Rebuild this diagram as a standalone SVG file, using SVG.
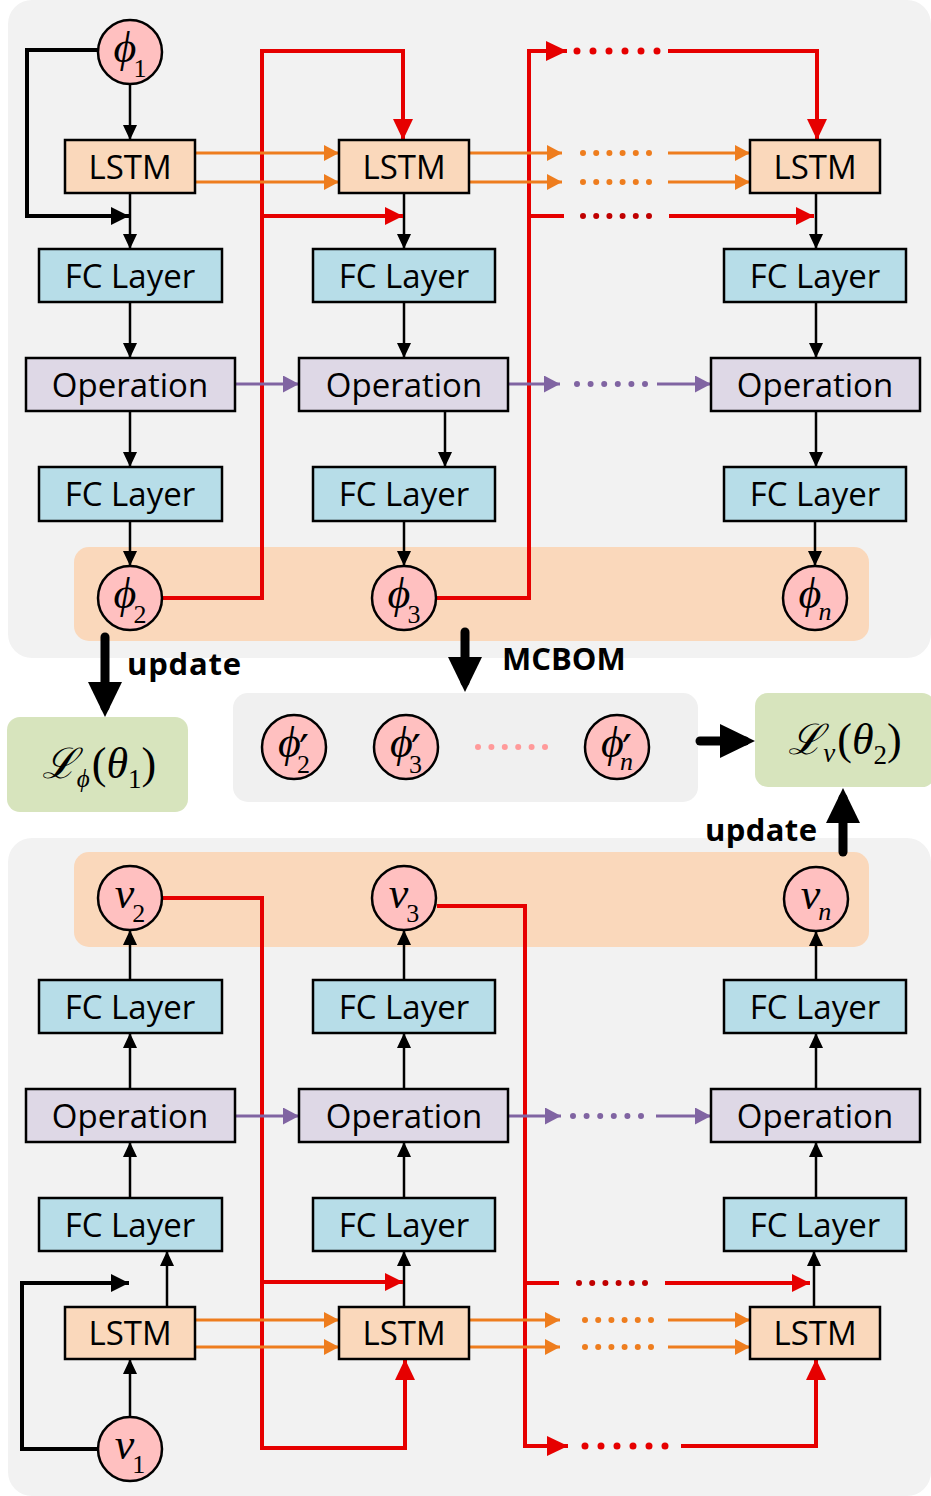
<svg xmlns="http://www.w3.org/2000/svg" width="931" height="1496" viewBox="0 0 931 1496">
<style>
.panel{fill:#f2f2f2}
.band{fill:#fad8bb}
.lstm{fill:#fad8bb;stroke:#000;stroke-width:2.5}
.fc{fill:#b7dde8;stroke:#000;stroke-width:2.5}
.op{fill:#ded8e6;stroke:#000;stroke-width:2.5}
.cir{fill:#ffc0c0;stroke:#000;stroke-width:2.5}
.green{fill:#d7e4bd}
.lbl{font-family:"Open Sans","Liberation Sans",sans-serif;font-size:33px;fill:#000;text-anchor:middle}
.bold{font-family:"Open Sans","Liberation Sans",sans-serif;font-size:31px;font-weight:700;fill:#000}
.m{font-family:"Liberation Serif","DejaVu Serif",serif;font-size:44px;fill:#000;text-anchor:middle}
.it{font-style:italic}
.sub{font-size:26px}
.pr{font-family:"DejaVu Serif",serif;font-size:44px}
.blk{fill:none;stroke:#000;stroke-width:2.5}
.blk4{fill:none;stroke:#000;stroke-width:4}
.red{fill:none;stroke:#e60000;stroke-width:4}
.org{fill:none;stroke:#ee7d1e;stroke-width:3}
.pur{fill:none;stroke:#8064a2;stroke-width:3}
.thick{fill:none;stroke:#000;stroke-width:9;stroke-linecap:round}
.dr{fill:none;stroke:#e60000;stroke-width:7;stroke-linecap:round;stroke-dasharray:0 16}
.ddr{fill:none;stroke:#c00000;stroke-width:6;stroke-linecap:round;stroke-dasharray:0 13.2}
.dor{fill:none;stroke:#ee7d1e;stroke-width:6;stroke-linecap:round;stroke-dasharray:0 13.2}
.dpu{fill:none;stroke:#8064a2;stroke-width:6;stroke-linecap:round;stroke-dasharray:0 13.6}
.dpk{fill:none;stroke:#ff9a9a;stroke-width:6;stroke-linecap:round;stroke-dasharray:0 13.4}
</style>
<defs>
<marker id="mk" markerUnits="userSpaceOnUse" markerWidth="15" markerHeight="14" refX="15" refY="7" orient="auto"><path d="M0,0 L15,7 L0,14 z" fill="#000"/></marker>
<marker id="mkb" markerUnits="userSpaceOnUse" markerWidth="18" markerHeight="18" refX="18" refY="9" orient="auto"><path d="M0,0 L18,9 L0,18 z" fill="#000"/></marker>
<marker id="mr" markerUnits="userSpaceOnUse" markerWidth="21" markerHeight="20" refX="21" refY="10" orient="auto"><path d="M0,0 L21,10 L0,20 z" fill="#e60000"/></marker>
<marker id="mrs" markerUnits="userSpaceOnUse" markerWidth="18" markerHeight="18" refX="18" refY="9" orient="auto"><path d="M0,0 L18,9 L0,18 z" fill="#e60000"/></marker>
<marker id="mo" markerUnits="userSpaceOnUse" markerWidth="15" markerHeight="16" refX="15" refY="8" orient="auto"><path d="M0,0 L15,8 L0,16 z" fill="#ee7d1e"/></marker>
<marker id="mp" markerUnits="userSpaceOnUse" markerWidth="16" markerHeight="17" refX="16" refY="8.5" orient="auto"><path d="M0,0 L16,8.5 L0,17 z" fill="#8064a2"/></marker>
<marker id="mt" markerUnits="userSpaceOnUse" markerWidth="35" markerHeight="34" refX="25" refY="17" orient="auto"><path d="M0,0 L35,17 L0,34 z" fill="#000"/></marker>
</defs>
<rect width="931" height="1496" fill="#fff"/>
<g id="backgrounds">
<rect class="panel" x="8" y="0" width="923" height="658" rx="24"/>
<rect class="band" x="74" y="547" width="795" height="94" rx="15"/>
<rect fill="#f0f0f0" x="233" y="693" width="465" height="109" rx="15"/>
<rect class="panel" x="8" y="838" width="923" height="658" rx="24"/>
<rect class="band" x="74" y="852" width="795" height="95" rx="15"/>
</g>
<g id="connectors">
<path class="blk" d="M130,84 V140" marker-end="url(#mk)"/>
<path class="blk4" d="M98,50 H27 V216 H129" marker-end="url(#mkb)"/>
<path class="blk" d="M130,193 V249" marker-end="url(#mk)"/>
<path class="blk" d="M404,193 V249" marker-end="url(#mk)"/>
<path class="blk" d="M816,193 V249" marker-end="url(#mk)"/>
<path class="blk" d="M130,302 V358" marker-end="url(#mk)"/>
<path class="blk" d="M404,302 V358" marker-end="url(#mk)"/>
<path class="blk" d="M816,302 V358" marker-end="url(#mk)"/>
<path class="blk" d="M130,411 V467" marker-end="url(#mk)"/>
<path class="blk" d="M445,411 V467" marker-end="url(#mk)"/>
<path class="blk" d="M816,411 V467" marker-end="url(#mk)"/>
<path class="blk" d="M130,521 V566" marker-end="url(#mk)"/>
<path class="blk" d="M404,521 V566" marker-end="url(#mk)"/>
<path class="blk" d="M815,521 V566" marker-end="url(#mk)"/>
<path class="red" d="M163,598 H262 V51 H403 V140" marker-end="url(#mr)"/>
<path class="red" d="M262,216 H403" marker-end="url(#mrs)"/>
<path class="red" d="M437,598 H529 V51 H567" marker-end="url(#mr)"/>
<path class="dr" d="M577,51 H657.1"/>
<path class="red" d="M668,51 H817 V140" marker-end="url(#mr)"/>
<path class="red" d="M529,216 H564"/>
<path class="ddr" d="M583,216 H649.1"/>
<path class="red" d="M669,216 H814" marker-end="url(#mrs)"/>
<path class="org" d="M195,153 H339" marker-end="url(#mo)"/>
<path class="org" d="M195,182 H339" marker-end="url(#mo)"/>
<path class="org" d="M469,153 H562" marker-end="url(#mo)"/>
<path class="org" d="M469,182 H562" marker-end="url(#mo)"/>
<path class="dor" d="M583,153 H649.1"/>
<path class="dor" d="M583,182 H649.1"/>
<path class="org" d="M668,153 H750" marker-end="url(#mo)"/>
<path class="org" d="M668,182 H750" marker-end="url(#mo)"/>
<path class="pur" d="M235,384 H299" marker-end="url(#mp)"/>
<path class="pur" d="M508,384 H560" marker-end="url(#mp)"/>
<path class="dpu" d="M577,384 H645.1"/>
<path class="pur" d="M657,384 H711" marker-end="url(#mp)"/>
<path class="thick" d="M105,637 V707" marker-end="url(#mt)"/>
<path class="thick" d="M465,632 V682" marker-end="url(#mt)"/>
<path class="thick" d="M700,741 H745" marker-end="url(#mt)"/>
<path class="thick" d="M843,852 V798" marker-end="url(#mt)"/>
<path class="dpk" d="M478,747 H545.1"/>
<path class="blk" d="M130,1417 V1359" marker-end="url(#mk)"/>
<path class="blk4" d="M98,1449 H22 V1283 H129" marker-end="url(#mkb)"/>
<path class="blk" d="M167,1307 V1251" marker-end="url(#mk)"/>
<path class="blk" d="M404,1307 V1251" marker-end="url(#mk)"/>
<path class="blk" d="M814,1307 V1251" marker-end="url(#mk)"/>
<path class="blk" d="M130,1198 V1142" marker-end="url(#mk)"/>
<path class="blk" d="M404,1198 V1142" marker-end="url(#mk)"/>
<path class="blk" d="M816,1198 V1142" marker-end="url(#mk)"/>
<path class="blk" d="M130,1089 V1033" marker-end="url(#mk)"/>
<path class="blk" d="M404,1089 V1033" marker-end="url(#mk)"/>
<path class="blk" d="M816,1089 V1033" marker-end="url(#mk)"/>
<path class="blk" d="M130,980 V930" marker-end="url(#mk)"/>
<path class="blk" d="M404,980 V930" marker-end="url(#mk)"/>
<path class="blk" d="M816,980 V931" marker-end="url(#mk)"/>
<path class="red" d="M163,898 H262 V1448 H405 V1359" marker-end="url(#mr)"/>
<path class="red" d="M262,1282 H403" marker-end="url(#mrs)"/>
<path class="red" d="M437,906 H525 V1446 H568" marker-end="url(#mr)"/>
<path class="dr" d="M585,1446 H665.1"/>
<path class="red" d="M681,1446 H816 V1359" marker-end="url(#mr)"/>
<path class="red" d="M525,1283 H559"/>
<path class="ddr" d="M579,1283 H645.1"/>
<path class="red" d="M665,1283 H810" marker-end="url(#mrs)"/>
<path class="org" d="M195,1320 H339" marker-end="url(#mo)"/>
<path class="org" d="M195,1347 H339" marker-end="url(#mo)"/>
<path class="org" d="M469,1320 H560" marker-end="url(#mo)"/>
<path class="org" d="M469,1347 H560" marker-end="url(#mo)"/>
<path class="dor" d="M585,1320 H651.1"/>
<path class="dor" d="M585,1347 H651.1"/>
<path class="org" d="M668,1320 H750" marker-end="url(#mo)"/>
<path class="org" d="M668,1347 H750" marker-end="url(#mo)"/>
<path class="pur" d="M235,1116 H299" marker-end="url(#mp)"/>
<path class="pur" d="M508,1116 H561" marker-end="url(#mp)"/>
<path class="dpu" d="M573,1116 H641.1"/>
<path class="pur" d="M656,1116 H711" marker-end="url(#mp)"/>
</g>
<g id="labels">
<text class="bold" x="127" y="675" textLength="114">update</text>
<text class="bold" x="502" y="670" font-size="34">MCBOM</text>
<text class="bold" x="705" y="841" textLength="112">update</text>
</g>
<g id="phi1"><circle class="cir" cx="130" cy="52" r="32"/><text class="m" x="130" y="62"><tspan class="it">ϕ</tspan><tspan class="sub" dx="-3" dy="15">1</tspan></text></g>
<g id="lstm-t1"><rect class="lstm" x="65" y="140" width="130" height="53"/><text class="lbl" x="130" y="179">LSTM</text></g>
<g id="lstm-t2"><rect class="lstm" x="339" y="140" width="130" height="53"/><text class="lbl" x="404" y="179">LSTM</text></g>
<g id="lstm-t3"><rect class="lstm" x="750" y="140" width="130" height="53"/><text class="lbl" x="815" y="179">LSTM</text></g>
<g id="fc-t1a"><rect class="fc" x="39" y="249" width="183" height="53"/><text class="lbl" x="130" y="288">FC Layer</text></g>
<g id="fc-t2a"><rect class="fc" x="313" y="249" width="182" height="53"/><text class="lbl" x="404" y="288">FC Layer</text></g>
<g id="fc-t3a"><rect class="fc" x="724" y="249" width="182" height="53"/><text class="lbl" x="815" y="288">FC Layer</text></g>
<g id="op-t1"><rect class="op" x="26" y="358" width="209" height="53"/><text class="lbl" x="130" y="397">Operation</text></g>
<g id="op-t2"><rect class="op" x="299" y="358" width="209" height="53"/><text class="lbl" x="404" y="397">Operation</text></g>
<g id="op-t3"><rect class="op" x="711" y="358" width="209" height="53"/><text class="lbl" x="815" y="397">Operation</text></g>
<g id="fc-t1b"><rect class="fc" x="39" y="467" width="183" height="54"/><text class="lbl" x="130" y="506">FC Layer</text></g>
<g id="fc-t2b"><rect class="fc" x="313" y="467" width="182" height="54"/><text class="lbl" x="404" y="506">FC Layer</text></g>
<g id="fc-t3b"><rect class="fc" x="724" y="467" width="182" height="54"/><text class="lbl" x="815" y="506">FC Layer</text></g>
<g id="phi2"><circle class="cir" cx="130" cy="598" r="32"/><text class="m" x="130" y="608"><tspan class="it">ϕ</tspan><tspan class="sub" dx="-3" dy="15">2</tspan></text></g>
<g id="phi3"><circle class="cir" cx="404" cy="598" r="32"/><text class="m" x="404" y="608"><tspan class="it">ϕ</tspan><tspan class="sub" dx="-3" dy="15">3</tspan></text></g>
<g id="phin"><circle class="cir" cx="815" cy="598" r="32"/><text class="m" x="815" y="608"><tspan class="it">ϕ</tspan><tspan class="sub it" dx="-3" dy="12">n</tspan></text></g>
<g id="loss-phi"><rect class="green" x="7" y="717" width="181" height="95" rx="13"/><text class="m" x="99" y="778" font-size="46"><tspan font-family="DejaVu Serif" font-style="italic" font-size="42">ℒ</tspan><tspan class="it" font-size="25" dy="9">ϕ</tspan><tspan dy="-9" dx="2">(</tspan><tspan class="it">θ</tspan><tspan font-size="27" dy="10">1</tspan><tspan dy="-10">)</tspan></text></g>
<g id="loss-v"><rect class="green" x="755" y="693" width="180" height="94" rx="13"/><text class="m" x="845" y="754" font-size="46"><tspan font-family="DejaVu Serif" font-style="italic" font-size="42">ℒ</tspan><tspan class="it" font-size="27" dy="8">v</tspan><tspan dy="-8" dx="2">(</tspan><tspan class="it">θ</tspan><tspan font-size="27" dy="10">2</tspan><tspan dy="-10">)</tspan></text></g>
<g id="phip2"><circle class="cir" cx="294" cy="747" r="32"/><text class="m" x="294" y="757"><tspan class="it">ϕ</tspan><tspan class="pr" dx="-2" dy="10">′</tspan><tspan class="sub" dx="-12" dy="6">2</tspan></text></g>
<g id="phip3"><circle class="cir" cx="406" cy="747" r="32"/><text class="m" x="406" y="757"><tspan class="it">ϕ</tspan><tspan class="pr" dx="-2" dy="10">′</tspan><tspan class="sub" dx="-12" dy="6">3</tspan></text></g>
<g id="phipn"><circle class="cir" cx="617" cy="747" r="32"/><text class="m" x="617" y="757"><tspan class="it">ϕ</tspan><tspan class="pr" dx="-2" dy="10">′</tspan><tspan class="sub it" dx="-12" dy="3">n</tspan></text></g>
<g id="v2"><circle class="cir" cx="130" cy="898" r="32"/><text class="m" x="130" y="908"><tspan class="it">v</tspan><tspan class="sub" dx="-2" dy="14">2</tspan></text></g>
<g id="v3"><circle class="cir" cx="404" cy="898" r="32"/><text class="m" x="404" y="908"><tspan class="it">v</tspan><tspan class="sub" dx="-2" dy="14">3</tspan></text></g>
<g id="vn"><circle class="cir" cx="816" cy="899" r="32"/><text class="m" x="816" y="909"><tspan class="it">v</tspan><tspan class="sub it" dx="-2" dy="11">n</tspan></text></g>
<g id="fc-b1a"><rect class="fc" x="39" y="980" width="183" height="53"/><text class="lbl" x="130" y="1019">FC Layer</text></g>
<g id="fc-b2a"><rect class="fc" x="313" y="980" width="182" height="53"/><text class="lbl" x="404" y="1019">FC Layer</text></g>
<g id="fc-b3a"><rect class="fc" x="724" y="980" width="182" height="53"/><text class="lbl" x="815" y="1019">FC Layer</text></g>
<g id="op-b1"><rect class="op" x="26" y="1089" width="209" height="53"/><text class="lbl" x="130" y="1128">Operation</text></g>
<g id="op-b2"><rect class="op" x="299" y="1089" width="209" height="53"/><text class="lbl" x="404" y="1128">Operation</text></g>
<g id="op-b3"><rect class="op" x="711" y="1089" width="209" height="53"/><text class="lbl" x="815" y="1128">Operation</text></g>
<g id="fc-b1b"><rect class="fc" x="39" y="1198" width="183" height="53"/><text class="lbl" x="130" y="1237">FC Layer</text></g>
<g id="fc-b2b"><rect class="fc" x="313" y="1198" width="182" height="53"/><text class="lbl" x="404" y="1237">FC Layer</text></g>
<g id="fc-b3b"><rect class="fc" x="724" y="1198" width="182" height="53"/><text class="lbl" x="815" y="1237">FC Layer</text></g>
<g id="lstm-b1"><rect class="lstm" x="65" y="1307" width="130" height="52"/><text class="lbl" x="130" y="1345">LSTM</text></g>
<g id="lstm-b2"><rect class="lstm" x="339" y="1307" width="130" height="52"/><text class="lbl" x="404" y="1345">LSTM</text></g>
<g id="lstm-b3"><rect class="lstm" x="750" y="1307" width="130" height="52"/><text class="lbl" x="815" y="1345">LSTM</text></g>
<g id="v1"><circle class="cir" cx="130" cy="1449" r="32"/><text class="m" x="130" y="1459"><tspan class="it">v</tspan><tspan class="sub" dx="-2" dy="14">1</tspan></text></g>
</svg>
